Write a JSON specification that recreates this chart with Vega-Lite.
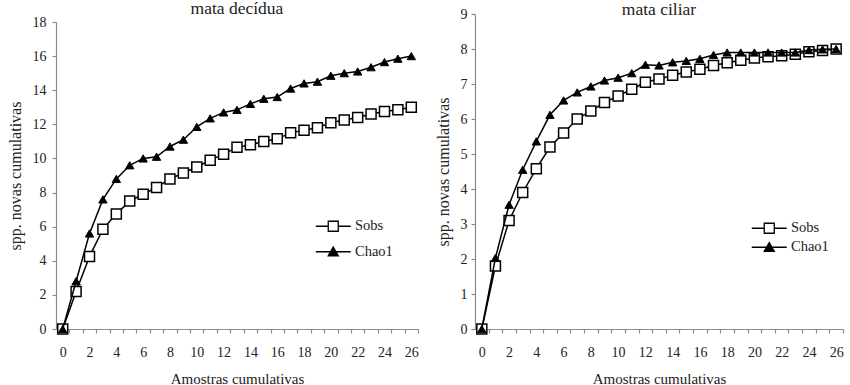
{
  "$schema": "https://vega.github.io/schema/vega-lite/v6.json",
  "background": "white",
  "padding": {"left": 7, "top": -1, "right": 0, "bottom": 0},
  "config": {
    "font": "Liberation Serif",
    "view": {"stroke": null},
    "axis": {"domainColor": "#8a8a8a", "tickColor": "#8a8a8a", "labelColor": "#222", "titleColor": "#222", "labelFont": "Liberation Serif", "titleFont": "Liberation Serif", "labelFontSize": 14, "titleFontWeight": "normal", "grid": false, "tickSize": 4, "domainWidth": 1.2, "tickWidth": 1.2},
    "title": {"font": "Liberation Serif", "fontSize": 17.5, "fontWeight": "normal", "color": "#222", "anchor": "middle"},
    "legend": {"labelFont": "Liberation Serif", "labelFontSize": 14.5, "labelColor": "#222", "labelOffset": 14.5, "symbolOpacity": 1, "symbolSize": 100, "symbolStrokeWidth": 1.3, "padding": 0}
  },
  "datasets": {
    "d": [
      {"p":"decidua","s":"Sobs","x":0,"y":0},{"p":"decidua","s":"Sobs","x":1,"y":2.2},{"p":"decidua","s":"Sobs","x":2,"y":4.25},{"p":"decidua","s":"Sobs","x":3,"y":5.85},{"p":"decidua","s":"Sobs","x":4,"y":6.75},{"p":"decidua","s":"Sobs","x":5,"y":7.5},{"p":"decidua","s":"Sobs","x":6,"y":7.9},{"p":"decidua","s":"Sobs","x":7,"y":8.3},{"p":"decidua","s":"Sobs","x":8,"y":8.8},{"p":"decidua","s":"Sobs","x":9,"y":9.15},{"p":"decidua","s":"Sobs","x":10,"y":9.5},{"p":"decidua","s":"Sobs","x":11,"y":9.9},{"p":"decidua","s":"Sobs","x":12,"y":10.25},{"p":"decidua","s":"Sobs","x":13,"y":10.65},{"p":"decidua","s":"Sobs","x":14,"y":10.8},{"p":"decidua","s":"Sobs","x":15,"y":11.0},{"p":"decidua","s":"Sobs","x":16,"y":11.15},{"p":"decidua","s":"Sobs","x":17,"y":11.5},{"p":"decidua","s":"Sobs","x":18,"y":11.65},{"p":"decidua","s":"Sobs","x":19,"y":11.8},{"p":"decidua","s":"Sobs","x":20,"y":12.1},{"p":"decidua","s":"Sobs","x":21,"y":12.25},{"p":"decidua","s":"Sobs","x":22,"y":12.4},{"p":"decidua","s":"Sobs","x":23,"y":12.6},{"p":"decidua","s":"Sobs","x":24,"y":12.75},{"p":"decidua","s":"Sobs","x":25,"y":12.85},{"p":"decidua","s":"Sobs","x":26,"y":13.0},
      {"p":"decidua","s":"Chao1","x":0,"y":0},{"p":"decidua","s":"Chao1","x":1,"y":2.8},{"p":"decidua","s":"Chao1","x":2,"y":5.6},{"p":"decidua","s":"Chao1","x":3,"y":7.6},{"p":"decidua","s":"Chao1","x":4,"y":8.8},{"p":"decidua","s":"Chao1","x":5,"y":9.6},{"p":"decidua","s":"Chao1","x":6,"y":10.0},{"p":"decidua","s":"Chao1","x":7,"y":10.1},{"p":"decidua","s":"Chao1","x":8,"y":10.7},{"p":"decidua","s":"Chao1","x":9,"y":11.1},{"p":"decidua","s":"Chao1","x":10,"y":11.85},{"p":"decidua","s":"Chao1","x":11,"y":12.35},{"p":"decidua","s":"Chao1","x":12,"y":12.7},{"p":"decidua","s":"Chao1","x":13,"y":12.85},{"p":"decidua","s":"Chao1","x":14,"y":13.2},{"p":"decidua","s":"Chao1","x":15,"y":13.5},{"p":"decidua","s":"Chao1","x":16,"y":13.6},{"p":"decidua","s":"Chao1","x":17,"y":14.1},{"p":"decidua","s":"Chao1","x":18,"y":14.4},{"p":"decidua","s":"Chao1","x":19,"y":14.5},{"p":"decidua","s":"Chao1","x":20,"y":14.85},{"p":"decidua","s":"Chao1","x":21,"y":15.0},{"p":"decidua","s":"Chao1","x":22,"y":15.1},{"p":"decidua","s":"Chao1","x":23,"y":15.35},{"p":"decidua","s":"Chao1","x":24,"y":15.65},{"p":"decidua","s":"Chao1","x":25,"y":15.85},{"p":"decidua","s":"Chao1","x":26,"y":16.0},
      {"p":"ciliar","s":"Sobs","x":0,"y":0},{"p":"ciliar","s":"Sobs","x":1,"y":1.8},{"p":"ciliar","s":"Sobs","x":2,"y":3.1},{"p":"ciliar","s":"Sobs","x":3,"y":3.9},{"p":"ciliar","s":"Sobs","x":4,"y":4.58},{"p":"ciliar","s":"Sobs","x":5,"y":5.2},{"p":"ciliar","s":"Sobs","x":6,"y":5.6},{"p":"ciliar","s":"Sobs","x":7,"y":6.0},{"p":"ciliar","s":"Sobs","x":8,"y":6.23},{"p":"ciliar","s":"Sobs","x":9,"y":6.47},{"p":"ciliar","s":"Sobs","x":10,"y":6.66},{"p":"ciliar","s":"Sobs","x":11,"y":6.85},{"p":"ciliar","s":"Sobs","x":12,"y":7.05},{"p":"ciliar","s":"Sobs","x":13,"y":7.14},{"p":"ciliar","s":"Sobs","x":14,"y":7.25},{"p":"ciliar","s":"Sobs","x":15,"y":7.34},{"p":"ciliar","s":"Sobs","x":16,"y":7.42},{"p":"ciliar","s":"Sobs","x":17,"y":7.53},{"p":"ciliar","s":"Sobs","x":18,"y":7.61},{"p":"ciliar","s":"Sobs","x":19,"y":7.68},{"p":"ciliar","s":"Sobs","x":20,"y":7.74},{"p":"ciliar","s":"Sobs","x":21,"y":7.78},{"p":"ciliar","s":"Sobs","x":22,"y":7.81},{"p":"ciliar","s":"Sobs","x":23,"y":7.85},{"p":"ciliar","s":"Sobs","x":24,"y":7.92},{"p":"ciliar","s":"Sobs","x":25,"y":7.96},{"p":"ciliar","s":"Sobs","x":26,"y":8.0},
      {"p":"ciliar","s":"Chao1","x":0,"y":0},{"p":"ciliar","s":"Chao1","x":1,"y":2.03},{"p":"ciliar","s":"Chao1","x":2,"y":3.55},{"p":"ciliar","s":"Chao1","x":3,"y":4.55},{"p":"ciliar","s":"Chao1","x":4,"y":5.36},{"p":"ciliar","s":"Chao1","x":5,"y":6.12},{"p":"ciliar","s":"Chao1","x":6,"y":6.53},{"p":"ciliar","s":"Chao1","x":7,"y":6.76},{"p":"ciliar","s":"Chao1","x":8,"y":6.93},{"p":"ciliar","s":"Chao1","x":9,"y":7.1},{"p":"ciliar","s":"Chao1","x":10,"y":7.18},{"p":"ciliar","s":"Chao1","x":11,"y":7.31},{"p":"ciliar","s":"Chao1","x":12,"y":7.55},{"p":"ciliar","s":"Chao1","x":13,"y":7.53},{"p":"ciliar","s":"Chao1","x":14,"y":7.62},{"p":"ciliar","s":"Chao1","x":15,"y":7.66},{"p":"ciliar","s":"Chao1","x":16,"y":7.72},{"p":"ciliar","s":"Chao1","x":17,"y":7.83},{"p":"ciliar","s":"Chao1","x":18,"y":7.9},{"p":"ciliar","s":"Chao1","x":19,"y":7.9},{"p":"ciliar","s":"Chao1","x":20,"y":7.9},{"p":"ciliar","s":"Chao1","x":21,"y":7.9},{"p":"ciliar","s":"Chao1","x":22,"y":7.9},{"p":"ciliar","s":"Chao1","x":23,"y":7.9},{"p":"ciliar","s":"Chao1","x":24,"y":7.97},{"p":"ciliar","s":"Chao1","x":25,"y":7.99},{"p":"ciliar","s":"Chao1","x":26,"y":8.0}
    ]
  },
  "spacing": 14,
  "hconcat": [
    {
      "width": 362,
      "height": 315,
      "title": {"text": "mata decídua", "offset": -3},
      "data": {"name": "d"},
      "transform": [{"filter": "datum.p === 'decidua'"}],
      "encoding": {
        "x": {"field": "x", "type": "quantitative", "scale": {"domain": [-0.5, 26.5], "nice": false, "zero": false},
          "axis": {"title": "Amostras cumulativas", "values": [0,1,2,3,4,5,6,7,8,9,10,11,12,13,14,15,16,17,18,19,20,21,22,23,24,25,26], "labelExpr": "datum.value % 2 ? '' : datum.label", "tickOffset": 6.7, "labelOffset": -6.7, "labelFlush": false, "labelOverlap": false, "labelPadding": 12, "titleFontSize": 15, "titlePadding": 12}},
        "y": {"field": "y", "type": "quantitative", "scale": {"domain": [0, 18], "nice": false, "range": [315, 8]},
          "axis": {"title": "spp. novas cumulativas", "values": [0,2,4,6,8,10,12,14,16,18], "labelPadding": 6, "titleFontSize": 16, "titlePadding": 9}}
      },
      "layer": [
        {"mark": {"type": "point", "filled": true, "opacity": 0},
          "encoding": {
            "shape": {"field": "s", "type": "nominal", "scale": {"domain": ["Sobs", "Chao1"], "range": ["M-3.5,0H-1M1,0H3.5M-1,-1H1V1H-1Z", "M-3.5,0H3.5M0,-0.95L1,0.8H-1Z"]},
              "legend": {"title": null, "orient": "none", "legendX": 270, "legendY": 205, "rowPadding": 9.5}},
            "fill": {"field": "s", "type": "nominal", "scale": {"domain": ["Sobs", "Chao1"], "range": ["white", "black"]},
              "legend": {"title": null, "orient": "none", "legendX": 270, "legendY": 205, "rowPadding": 9.5}},
            "stroke": {"field": "s", "type": "nominal", "scale": {"domain": ["Sobs", "Chao1"], "range": ["black", "black"]},
              "legend": {"title": null, "orient": "none", "legendX": 270, "legendY": 205, "rowPadding": 9.5}}
          }},
        {"transform": [{"filter": "datum.s === 'Sobs'"}], "mark": {"type": "line", "color": "black", "strokeWidth": 1.5}},
        {"transform": [{"filter": "datum.s === 'Sobs'"}], "mark": {"type": "point", "shape": "square", "filled": true, "fill": "white", "size": 100, "stroke": "black", "strokeWidth": 1.5, "opacity": 1}},
        {"transform": [{"filter": "datum.s === 'Chao1'"}], "mark": {"type": "line", "color": "black", "strokeWidth": 1.5}},
        {"transform": [{"filter": "datum.s === 'Chao1'"}], "mark": {"type": "point", "shape": "triangle-up", "filled": true, "fill": "black", "size": 70, "stroke": "black", "strokeWidth": 1, "opacity": 1}}
      ]
    },
    {
      "width": 368,
      "height": 315,
      "title": {"text": "mata ciliar", "offset": -11},
      "data": {"name": "d"},
      "transform": [{"filter": "datum.p === 'ciliar'"}],
      "encoding": {
        "x": {"field": "x", "type": "quantitative", "scale": {"domain": [-0.5, 26.5], "nice": false, "zero": false},
          "axis": {"title": "Amostras cumulativas", "values": [0,1,2,3,4,5,6,7,8,9,10,11,12,13,14,15,16,17,18,19,20,21,22,23,24,25,26], "labelExpr": "datum.value % 2 ? '' : datum.label", "tickOffset": 6.8, "labelOffset": -6.8, "labelFlush": false, "labelOverlap": false, "labelPadding": 12, "titleFontSize": 15, "titlePadding": 12}},
        "y": {"field": "y", "type": "quantitative", "scale": {"domain": [0, 9], "nice": false},
          "axis": {"title": "spp. novas cumulativas", "values": [0,1,2,3,4,5,6,7,8,9], "labelPadding": 4, "titleFontSize": 16, "titlePadding": 9}}
      },
      "layer": [
        {"mark": {"type": "point", "filled": true, "opacity": 0},
          "encoding": {
            "shape": {"field": "s", "type": "nominal", "scale": {"domain": ["Sobs", "Chao1"], "range": ["M-3.5,0H-1M1,0H3.5M-1,-1H1V1H-1Z", "M-3.5,0H3.5M0,-0.95L1,0.8H-1Z"]},
              "legend": {"title": null, "orient": "none", "legendX": 287, "legendY": 207, "rowPadding": 3}},
            "fill": {"field": "s", "type": "nominal", "scale": {"domain": ["Sobs", "Chao1"], "range": ["white", "black"]},
              "legend": {"title": null, "orient": "none", "legendX": 287, "legendY": 207, "rowPadding": 3}},
            "stroke": {"field": "s", "type": "nominal", "scale": {"domain": ["Sobs", "Chao1"], "range": ["black", "black"]},
              "legend": {"title": null, "orient": "none", "legendX": 287, "legendY": 207, "rowPadding": 3}}
          }},
        {"transform": [{"filter": "datum.s === 'Sobs'"}], "mark": {"type": "line", "color": "black", "strokeWidth": 1.5}},
        {"transform": [{"filter": "datum.s === 'Sobs'"}], "mark": {"type": "point", "shape": "square", "filled": true, "fill": "white", "size": 100, "stroke": "black", "strokeWidth": 1.5, "opacity": 1}},
        {"transform": [{"filter": "datum.s === 'Chao1'"}], "mark": {"type": "line", "color": "black", "strokeWidth": 1.5}},
        {"transform": [{"filter": "datum.s === 'Chao1'"}], "mark": {"type": "point", "shape": "triangle-up", "filled": true, "fill": "black", "size": 70, "stroke": "black", "strokeWidth": 1, "opacity": 1}}
      ]
    }
  ],
  "resolve": {"scale": {"x": "independent", "y": "independent", "shape": "independent", "fill": "independent", "stroke": "independent"}, "legend": {"shape": "independent", "fill": "independent", "stroke": "independent"}}
}
